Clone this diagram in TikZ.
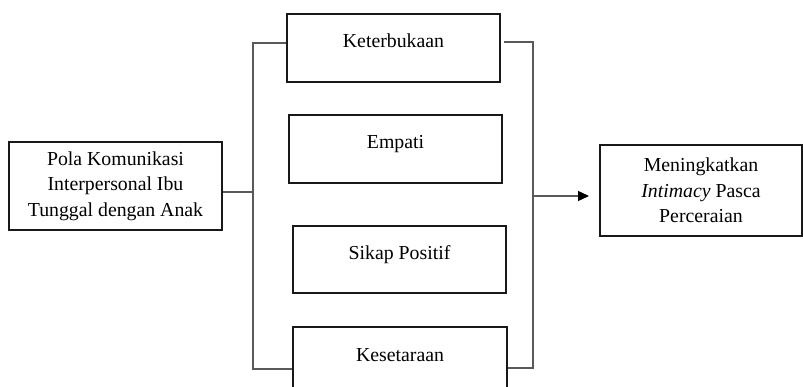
\documentclass[tikz,border=0pt]{standalone}
\usepackage{fontspec}
\setmainfont{Liberation Serif}
\usetikzlibrary{arrows.meta}
\begin{document}
\begin{tikzpicture}[x=1pt,y=-1pt,
  box/.style={draw=black!90,line width=1.8pt,rectangle,inner sep=0pt,
    font=\fontsize{19.8}{25.5}\selectfont,align=center},
  onebox/.style={box,text height=13pt,text depth=13pt},
  conn/.style={draw=black!65,line width=1.4pt}]
\useasboundingbox[fill=white] (0,0) rectangle (803,387);
\node[box,minimum width=213pt,minimum height=88pt] (L) at (115.5,186)
  {Pola Komunikasi\\Interpersonal Ibu\\Tunggal dengan Anak};
\node[onebox,minimum width=213pt,minimum height=68pt] (K) at (393.5,48) {Keterbukaan};
\node[onebox,minimum width=213pt,minimum height=68pt] (E) at (395.5,149) {Empati};
\node[onebox,minimum width=213pt,minimum height=67pt] (S) at (399.5,259.5) {Sikap Positif};
\node[onebox,minimum width=214pt,minimum height=68pt] (T) at (400,361) {Kesetaraan};
\node[box,minimum width=202pt,minimum height=91pt] (M) at (701,190.5)
  {Meningkatkan\\\textit{Intimacy} Pasca\\Perceraian};
\coordinate (lmid) at (253,192);
\coordinate (lbot) at (253,369);
\coordinate (rbot) at (533,368);
\coordinate (arr) at (533,196);
\coordinate (tip) at (589,196);
% left bracket
\draw[conn] ([yshift=-6pt]L.east) -- (lmid);
\draw[conn] ([yshift=5pt]K.west) -| (lbot) -- ([yshift=-8pt]T.west);
% right bracket
\draw[conn] ([yshift=6pt,xshift=3pt]K.east) -| (rbot) -- ([yshift=-7pt]T.east);
\draw[conn,-{Triangle[length=11pt,width=10pt,color=black]}] (arr) -- (tip);
\end{tikzpicture}
\end{document}
